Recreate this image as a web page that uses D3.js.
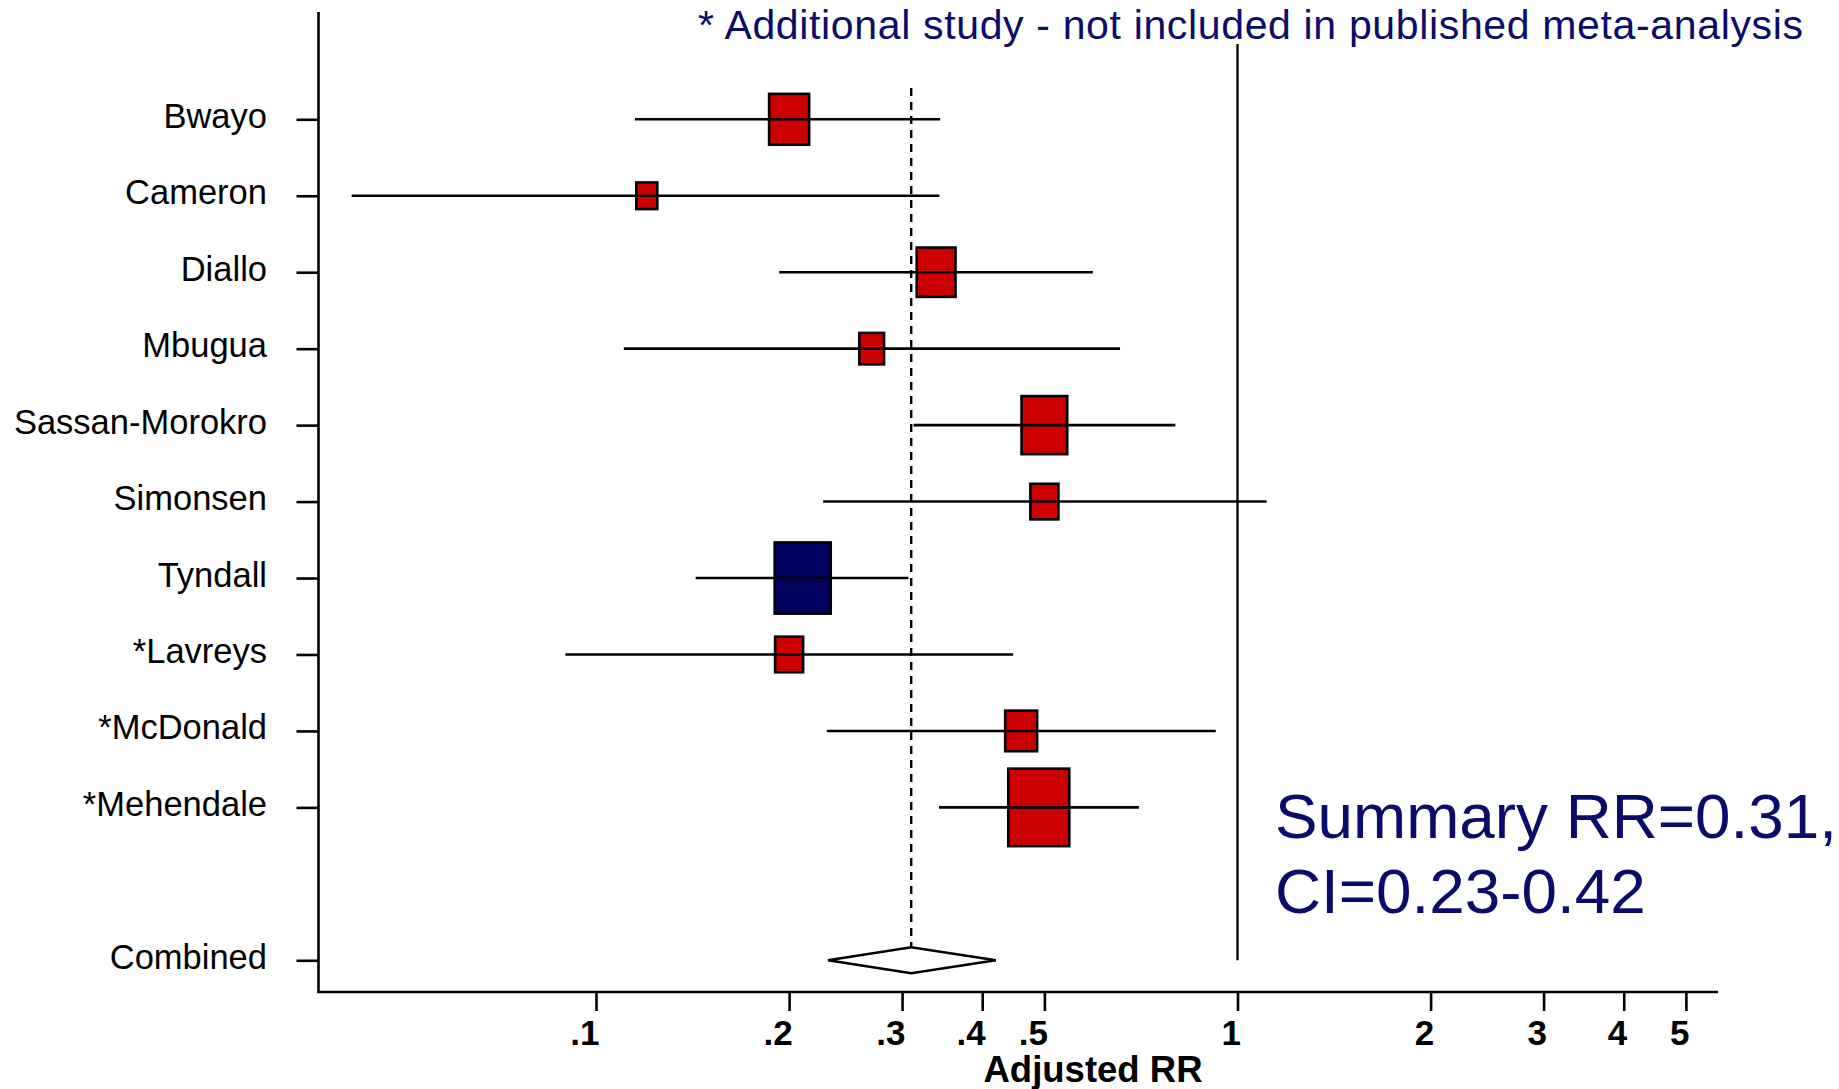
<!DOCTYPE html>
<html>
<head>
<meta charset="utf-8">
<script src="https://cdn.jsdelivr.net/npm/d3@7"></script>
<style>
  html, body { margin: 0; padding: 0; background: #fff; }
  svg { display: block; font-family: "Liberation Sans", Arial, Helvetica, sans-serif; }
</style>
</head>
<body>
<div id="chart"></div>
<script>
// Study estimates (adjusted RR with 95% CI) and relative weights (%)
const studies = ["Bwayo", "Cameron", "Diallo", "Mbugua", "Sassan-Morokro", "Simonsen", "Tyndall", "*Lavreys", "*McDonald", "*Mehendale"];
const rr = [0.20, 0.12, 0.339, 0.269, 0.50, 0.50, 0.21, 0.20, 0.46, 0.49];
const ciLow = [0.115, 0.0416, 0.193, 0.1105, 0.3126, 0.226, 0.143, 0.0896, 0.229, 0.3425];
const ciHigh = [0.344, 0.343, 0.595, 0.656, 0.80, 1.11, 0.307, 0.447, 0.925, 0.702];
const weights = [10.2, 2.8, 9.6, 3.9, 13.3, 5.0, 20.0, 5.0, 6.5, 23.7];
const highlighted = ["Tyndall"];

// Pooled estimate
const combinedLabel = "Combined";
const combinedRR = 0.31;
const combinedCI = [0.23, 0.42];

// Axis ticks
const xTicks = [0.1, 0.2, 0.3, 0.4, 0.5, 1, 2, 3, 4, 5];
const xTickLabels = [".1", ".2", ".3", ".4", ".5", "1", "2", "3", "4", "5"];

const noteText = "* Additional study - not included in published meta-analysis";
const summaryLines = ["Summary RR=0.31,", "CI=0.23-0.42"];

const width = 1839;
const height = 1089;
const navy = "#0b0b6b";

const svg = d3.select('#chart')
  .append('svg')
  .attr('width', width)
  .attr('height', height);

// plot frame
const frameLeft = 318.5, frameBottom = 992, frameRight = 1718, frameTop = 12;

// log scale: .1 -> 596, 1 -> 1237.5
const x = d3.scaleLog()
  .domain([0.1, 1])
  .range([596, 1237.5]);

// rows: studies, one blank, then the combined row
const rowKeys = [...studies, "", combinedLabel];
const y = d3.scalePoint()
  .domain(rowKeys)
  .range([119.3, 960.3]);

const size = d3.scaleSqrt()
  .domain([0, d3.max(weights)])
  .range([0, 61]);

// axes lines
svg.append('line')
  .attr('x1', frameLeft).attr('x2', frameLeft)
  .attr('y1', frameTop).attr('y2', frameBottom + 1)
  .attr('stroke', '#000').attr('stroke-width', 2.6);

svg.append('line')
  .attr('x1', frameLeft - 1).attr('x2', frameRight)
  .attr('y1', frameBottom).attr('y2', frameBottom)
  .attr('stroke', '#000').attr('stroke-width', 2.6);

// y axis with study names
const yAxis = svg.append('g')
  .attr('transform', `translate(${frameLeft},0)`)
  .call(d3.axisLeft(y)
    .tickValues(rowKeys.filter(d => d !== ""))
    .tickSize(22)
    .tickPadding(29.5));

yAxis.select('.domain').remove();
yAxis.attr('font-family', null).attr('font-size', null);
yAxis.selectAll('.tick line').attr('stroke', '#000').attr('stroke-width', 2.6);
yAxis.selectAll('.tick text')
  .attr('font-size', 34.5)
  .attr('fill', '#000')
  .attr('dy', 8);

// x axis with log ticks
const xAxis = svg.append('g')
  .attr('transform', `translate(0,${frameBottom})`)
  .call(d3.axisBottom(x)
    .tickValues(xTicks)
    .tickFormat((d, i) => xTickLabels[i])
    .tickSize(19));

xAxis.select('.domain').remove();
xAxis.attr('font-family', null).attr('font-size', null);
xAxis.selectAll('.tick line').attr('stroke', '#000').attr('stroke-width', 2.6);
xAxis.selectAll('.tick text')
  .attr('text-anchor', 'end')
  .attr('x', 3)
  .attr('y', 53)
  .attr('dy', null)
  .attr('font-size', 35)
  .attr('font-weight', 'bold')
  .attr('fill', '#000');

svg.append('text')
  .attr('x', 1093)
  .attr('y', 1082)
  .attr('text-anchor', 'middle')
  .attr('font-size', 36.5)
  .attr('font-weight', 'bold')
  .text('Adjusted RR');

// reference lines: null effect and pooled estimate
const yComb = y(combinedLabel);
const diamondHalf = 13;

svg.append('line')
  .attr('x1', x(1)).attr('x2', x(1))
  .attr('y1', 44).attr('y2', yComb)
  .attr('stroke', '#000').attr('stroke-width', 2.3);

svg.append('line')
  .attr('x1', x(combinedRR)).attr('x2', x(combinedRR))
  .attr('y1', 88).attr('y2', yComb - diamondHalf)
  .attr('stroke', '#000').attr('stroke-width', 2.4)
  .attr('stroke-dasharray', '8,6');

// study boxes, sized by weight
const rows = studies.map((name, i) => ({
  name, rr: rr[i], lo: ciLow[i], hi: ciHigh[i], w: weights[i]
}));

svg.append('g')
  .selectAll('rect')
  .data(rows)
  .join('rect')
  .attr('x', d => x(d.rr) - size(d.w) / 2)
  .attr('y', d => y(d.name) - size(d.w) * 1.27 / 2)
  .attr('width', d => size(d.w))
  .attr('height', d => size(d.w) * 1.27)
  .attr('fill', d => highlighted.includes(d.name) ? '#00005e' : '#cc0000')
  .attr('stroke', '#000')
  .attr('stroke-width', 2.6);

// confidence intervals
svg.append('g')
  .selectAll('line')
  .data(rows)
  .join('line')
  .attr('x1', d => x(d.lo))
  .attr('x2', d => x(d.hi))
  .attr('y1', d => y(d.name))
  .attr('y2', d => y(d.name))
  .attr('stroke', '#000')
  .attr('stroke-width', 2.6);

// combined diamond
svg.append('polygon')
  .attr('points', [
    [x(combinedCI[0]), yComb],
    [x(combinedRR), yComb - diamondHalf],
    [x(combinedCI[1]), yComb],
    [x(combinedRR), yComb + diamondHalf]
  ].map(p => p.join(',')).join(' '))
  .attr('fill', '#fff')
  .attr('stroke', '#000')
  .attr('stroke-width', 2.6);

// annotations
svg.append('text')
  .attr('x', 698)
  .attr('y', 39)
  .attr('font-size', 41)
  .attr('fill', navy)
  .attr('textLength', 1105)
  .text(noteText);

svg.append('g')
  .selectAll('text')
  .data(summaryLines)
  .join('text')
  .attr('x', 1275)
  .attr('y', (d, i) => 838 + i * 75)
  .attr('font-size', 63.8)
  .attr('fill', navy)
  .text(d => d);
</script>
</body>
</html>
